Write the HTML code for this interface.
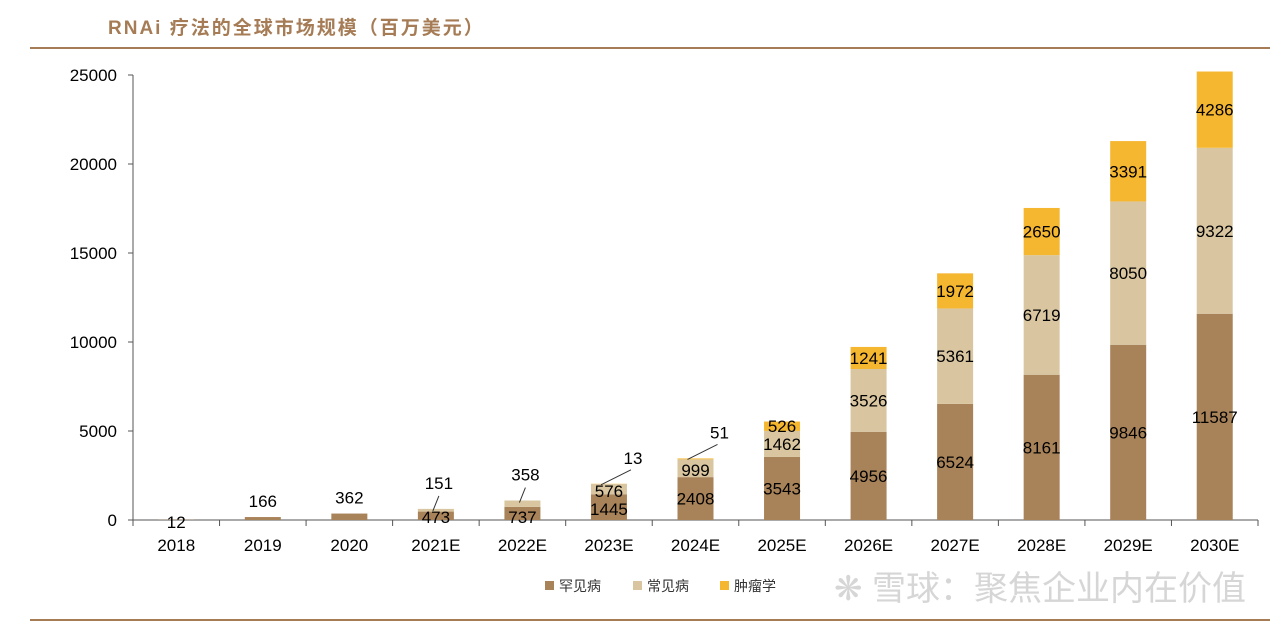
<!DOCTYPE html>
<html><head><meta charset="utf-8"><style>
body{margin:0;background:#fff;width:1280px;height:630px;overflow:hidden;font-family:"Liberation Sans","Noto Sans CJK SC",sans-serif}
</style></head><body>
<svg id="c" width="1280" height="630" xmlns="http://www.w3.org/2000/svg">
<text x="108" y="34" font-size="19" font-weight="bold" fill="#a57c55" letter-spacing="2" font-family="Liberation Sans,Noto Sans CJK SC,sans-serif">RNAi 疗法的全球市场规模（百万美元）</text>
<line x1="30" y1="48" x2="1270" y2="48" stroke="#a57c55" stroke-width="2"/>
<line x1="30" y1="620" x2="1270" y2="620" stroke="#a57c55" stroke-width="2"/>
<text x="1040" y="600" font-size="34" fill="#d6d6d6" text-anchor="middle" font-family="Liberation Sans,Noto Sans CJK SC,sans-serif">❋ 雪球：聚焦企业内在价值</text>
<g id="plot"></g>
</svg>
<script>
const categories=["2018","2019","2020","2021E","2022E","2023E","2024E","2025E","2026E","2027E","2028E","2029E","2030E"];
const rare=[12,166,362,473,737,1445,2408,3543,4956,6524,8161,9846,11587];
const common=[0,0,0,151,358,576,999,1462,3526,5361,6719,8050,9322];
const oncology=[0,0,0,0,0,13,51,526,1241,1972,2650,3391,4286];
const yTicks=[0,5000,10000,15000,20000,25000];
const seriesNames=["罕见病","常见病","肿瘤学"];
const colors=["#a88258","#d9c6a0","#f5b630"];
const x0=133,x1=1258,y0=520,yTop=75,yMax=25000,bw=36;
const step=(x1-x0)/categories.length;
const xc=i=>x0+step*(i+0.5);
const y=v=>y0-(y0-yTop)*v/yMax;
const g=document.getElementById('plot');
const NS="http://www.w3.org/2000/svg";
function mk(t,a){const e=document.createElementNS(NS,t);for(const k in a)e.setAttribute(k,a[k]);g.appendChild(e);return e;}
let ax=mk('line',{x1:x0,y1:yTop,x2:x0,y2:y0,stroke:'#555'});


let bx=mk('line',{x1:x0,y1:y0,x2:x1,y2:y0,stroke:'#555'});


yTicks.forEach(v=>{
 let t=mk('line',{x1:x0-5,y1:y(v),x2:x0,y2:y(v),stroke:'#555'});
 
 
 let l=mk('text',{x:x0-16,y:y(v)+6,'font-size':17,'text-anchor':'end',fill:'#000'});l.textContent=v;
 
 
});
for(let i=0;i<=categories.length;i++){
 let t=mk('line',{x1:x0+step*i,y1:y0,x2:x0+step*i,y2:y0+6,stroke:'#555'});
 
 
}
const series=[rare,common,oncology];
categories.forEach((c,i)=>{
 let l=mk('text',{x:xc(i),y:551,'font-size':17,'text-anchor':'middle',fill:'#000'});l.textContent=c;
 
 
 let base=0;
 series.forEach((s,k)=>{
  const v=s[i];if(!v){return;}
  let r=mk('rect',{x:xc(i)-bw/2,y:y(base+v),width:bw,height:y(base)-y(base+v),fill:colors[k]});
  
  
  const top=y(base+v);
  const mid=(y(base)+top)/2;
  const h=y(base)-top;
  let lx=xc(i),ly=mid+6,lead=null;
  if(h<18){
   if(i<3){ly=(v<100)?y0+8:top-10;}
   else if(k===0){ly=y0+3;}
   else if(k===1&&i<5){lx=xc(i)+3;ly=top-20;lead=[lx,ly+7,xc(i)-3,top+2];}
   else if(k===1){ly=mid+8;}
   else if(i<7){lx=xc(i)+24;ly=top-20;lead=[lx-2,ly+6,xc(i)-8,top+1];}
   else{ly=mid+6;}
  }
  if(i===5&&k===1)ly=mid+8;
  if(i===5&&k===0)ly=mid+8;
  let t=mk('text',{x:lx,y:ly,'font-size':17,'text-anchor':'middle',fill:'#000'});t.textContent=v;
  
  
  if(lead){let ln=mk('line',{x1:lead[0],y1:lead[1],x2:lead[2],y2:lead[3],stroke:'#333'});
   
   }
  base+=v;
 });
});
const lgx=[545,633,720];
seriesNames.forEach((n,k)=>{
 let r=mk('rect',{x:lgx[k],y:581,width:9,height:9,fill:colors[k]});
 
 
 let t=mk('text',{x:lgx[k]+14,y:591,'font-size':14,fill:'#333'});t.textContent=n;
 
 
});
</script>
</body></html>
